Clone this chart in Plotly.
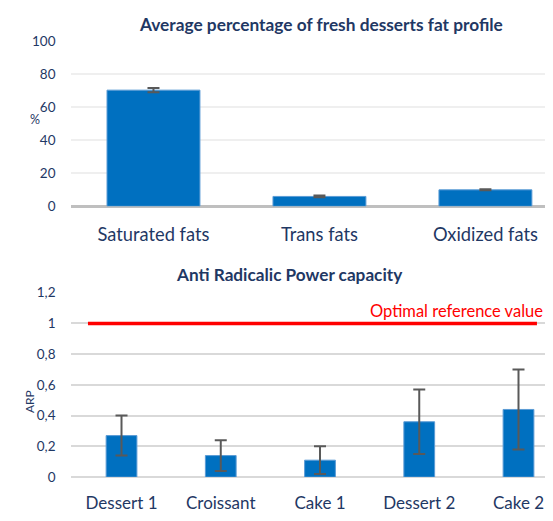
import plotly.graph_objects as go

# ---- data ----
fat_categories = ["Saturated fats", "Trans fats", "Oxidized fats"]
fat_values = [70.5, 6.0, 10.0]
fat_errors = [1.3, 0.5, 0.3]
fat_ticks = [0, 20, 40, 60, 80, 100]
fat_ticktext = ["0", "20", "40", "60", "80", "100"]

arp_categories = ["Dessert 1", "Croissant", "Cake 1", "Dessert 2", "Cake 2"]
arp_values = [0.27, 0.14, 0.11, 0.36, 0.44]
arp_upper = [0.40, 0.24, 0.20, 0.57, 0.70]
arp_lower = [0.14, 0.04, 0.02, 0.15, 0.18]
arp_ticks = [0, 0.2, 0.4, 0.6, 0.8, 1.0, 1.2]
arp_ticktext = ["0", "0,2", "0,4", "0,6", "0,8", "1", "1,2"]
reference_value = 1.0
reference_label = "Optimal reference value"

NAVY = "#1f3864"
BLUE = "#0070c0"
FONT = "Lato"
OFF = 8                      # page body margin
W, H = 553 - 2 * OFF, 521 - 2 * OFF
SY = 0.985                   # vertical scale observed in the rendered page

err_plus = [u - v for u, v in zip(arp_upper, arp_values)]
err_minus = [v - l for v, l in zip(arp_values, arp_lower)]


def py(img_y):               # wanted picture pixel -> paper y
    return 1 - ((img_y - OFF) / SY) / H


def px(img_x):
    return (img_x - OFF) / W


fig = go.Figure()
fig.add_trace(go.Bar(
    x=fat_categories, y=fat_values, width=0.56,
    marker=dict(color=BLUE, line=dict(color="#5b9bd5", width=1)),
    error_y=dict(type="data", array=fat_errors, color="#595959", thickness=2, width=6),
    xaxis="x", yaxis="y", showlegend=False,
))
fig.add_trace(go.Bar(
    x=arp_categories, y=arp_values, width=0.31,
    marker=dict(color=BLUE, line=dict(color="#5b9bd5", width=1)),
    error_y=dict(type="data", symmetric=False, array=err_plus, arrayminus=err_minus,
                 color="#595959", thickness=2, width=6),
    xaxis="x2", yaxis="y2", showlegend=False,
))

x_dom = [px(70.5), 1.0]

fig.update_layout(
    width=W, height=H,
    margin=dict(l=0, r=0, t=0, b=0),
    paper_bgcolor="white", plot_bgcolor="white",
    font=dict(family=FONT, color=NAVY),
    xaxis=dict(domain=x_dom, anchor="y", range=[-0.5, 2.359], showgrid=False,
               showline=False, zeroline=False, ticks="", tickfont=dict(size=18.3, color=NAVY),
               ticklabelstandoff=15),
    yaxis=dict(domain=[py(202), py(34)], anchor="x", range=[0, 100],
               tickvals=fat_ticks, ticktext=fat_ticktext,
               gridcolor="#efefef", gridwidth=2, zeroline=True, zerolinecolor="#bfbfbf",
               zerolinewidth=3, showline=False, tickfont=dict(size=13.5, color=NAVY),
               ticklabelstandoff=14),
    xaxis2=dict(domain=x_dom, anchor="y2", range=[-0.514, 4.267], showgrid=False,
                showline=False, zeroline=False, ticks="", tickfont=dict(size=17, color=NAVY),
                ticklabelstandoff=14),
    yaxis2=dict(domain=[py(478), py(290)], anchor="x2", range=[0, 1.2],
                tickvals=arp_ticks, ticktext=arp_ticktext,
                gridcolor="#d9d9d9", gridwidth=2, zeroline=True, zerolinecolor="#d9d9d9",
                zerolinewidth=2, showline=False, tickfont=dict(size=13.5, color=NAVY),
                ticklabelstandoff=14),
)

fig.add_shape(type="line", xref="x2", yref="y2", x0=-0.338, x1=4.186,
              y0=reference_value, y1=reference_value,
              line=dict(color="#ff0000", width=3.5), layer="above")

fig.add_annotation(text=reference_label, xref="paper", yref="y2", x=1.0, y=reference_value,
                   xanchor="right", yanchor="bottom", yshift=0, showarrow=False,
                   font=dict(size=16.5, color="#ff0000", family=FONT))

fig.add_annotation(text="<b>Average percentage of fresh desserts fat profile</b>",
                   xref="paper", yref="paper", x=px(321), y=py(17), xanchor="center",
                   yanchor="middle", showarrow=False, font=dict(size=17.3, color=NAVY))
fig.add_annotation(text="<b>Anti Radicalic Power capacity</b>",
                   xref="paper", yref="paper", x=px(289), y=py(272), xanchor="center",
                   yanchor="middle", showarrow=False, font=dict(size=17.2, color=NAVY))
fig.add_annotation(text="%", xref="paper", yref="paper", x=px(34.5), y=py(113),
                   xanchor="center", yanchor="middle", showarrow=False,
                   font=dict(size=12.5, color=NAVY))
fig.add_annotation(text="ARP", xref="paper", yref="paper", x=px(29.5), y=py(401),
                   xanchor="center", yanchor="middle", showarrow=False, textangle=-90,
                   font=dict(size=12, color=NAVY))

fig.write_html("out.html")
